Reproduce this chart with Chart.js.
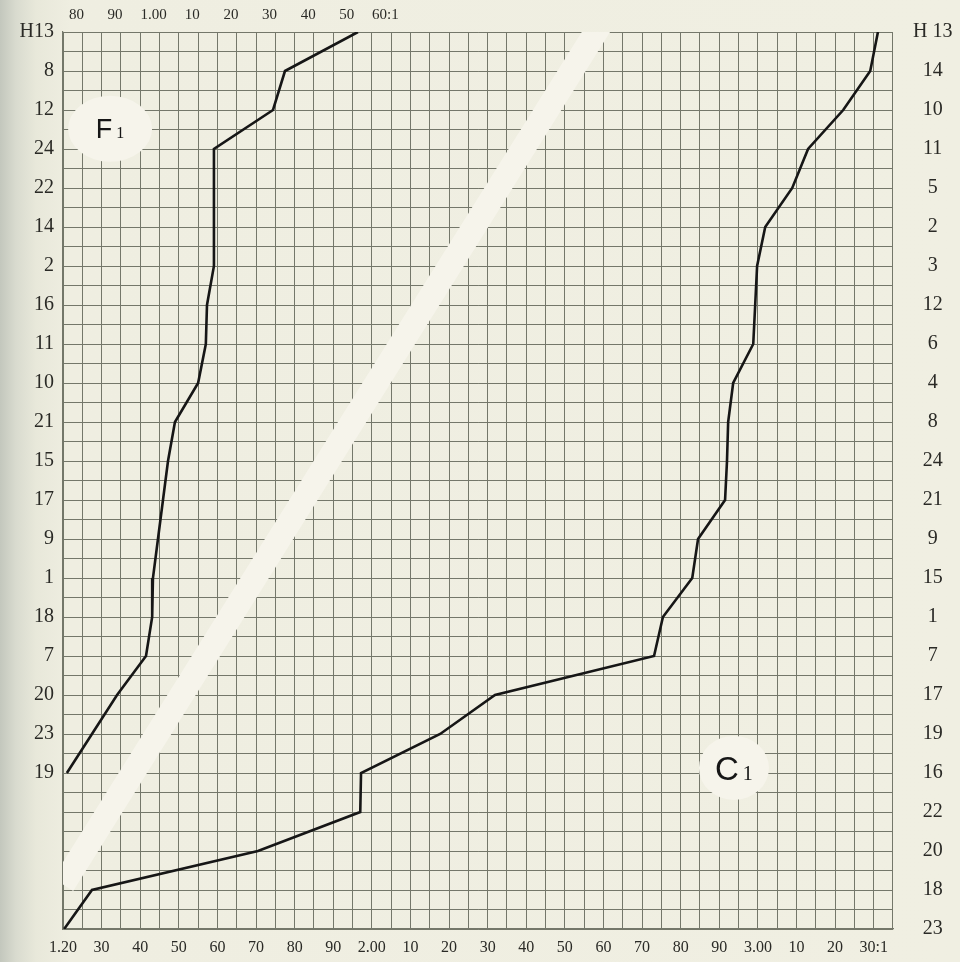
<!DOCTYPE html>
<html>
<head>
<meta charset="utf-8">
<script src="https://cdn.jsdelivr.net/npm/chart.js@4.4.1/dist/chart.umd.min.js"></script>
<style>
  html, body { margin: 0; padding: 0; background: #f0efe2; }
  #chart {
    display: block;
    background: linear-gradient(to right, #c3c7bd 0px, #d9dbcf 16px, #e8e8da 36px, #efeee1 70px, #f0efe2 100%);
  }
</style>
</head>
<body>
<canvas id="chart" width="960" height="962"></canvas>
<script>
// row labels (left belongs to F1, right to C1)
const leftLabels = ["H13", "8", "12", "24", "22", "14", "2", "16", "11", "10", "21", "15", "17", "9", "1", "18", "7", "20", "23", "19"];
const rightLabels = ["H 13", "14", "10", "11", "5", "2", "3", "12", "6", "4", "8", "24", "21", "9", "15", "1", "7", "17", "19", "16", "22", "20", "18", "23"];

// ratio scales: bottom for C1, top for F1
const bottomLabels = ["1.20", "30", "40", "50", "60", "70", "80", "90", "2.00", "10", "20", "30", "40", "50", "60", "70", "80", "90", "3.00", "10", "20", "30:1"];
const topLabels = ["80", "90", "1.00", "10", "20", "30", "40", "50", "60:1"];
const topTickValues = [0.80, 0.90, 1.00, 1.10, 1.20, 1.30, 1.40, 1.50, 1.60];

// F1 curve (top scale)
const f1Rows = [0, 1, 2, 3, 4, 5, 6, 7, 8, 9, 10, 11, 12, 13, 14, 15, 16, 17, 18, 19];
const f1Ratios = [1.529, 1.340, 1.309, 1.156, 1.156, 1.156, 1.156, 1.138, 1.135, 1.115, 1.055, 1.037, 1.024, 1.011, 0.998, 0.996, 0.980, 0.905, 0.840, 0.775];

// C1 curve (bottom scale)
const c1Rows = [0, 1, 2, 3, 4, 5, 6, 7, 8, 9, 10, 11, 12, 13, 14, 15, 16, 17, 18, 19, 20, 21, 22, 23];
const c1Ratios = [3.311, 3.291, 3.221, 3.130, 3.089, 3.019, 2.998, 2.993, 2.988, 2.936, 2.923, 2.920, 2.915, 2.845, 2.830, 2.754, 2.731, 2.319, 2.177, 1.972, 1.970, 1.705, 1.275, 1.203];

// blank strip across the grid paper
const bandRows = [-0.5, 21.86];
const bandRatios = [2.612, 1.200];

const blank = "#f6f4eb";
const ink = "#161616";
const gridInk = "#74776a";

const curveLabels = [
  { main: "F", sub: "1", x: 1.322, y: 2.48, rx: 42, ry: 33, size: 27 },
  { main: "C", sub: "1", x: 2.938, y: 18.87, rx: 35, ry: 32, size: 33 }
];

const toPoints = (xs, ys) => xs.map((v, i) => ({ x: v, y: ys[i] }));

const labelPlugin = {
  id: "curveLabels",
  beforeDatasetsDraw(chart) {
    const { ctx, scales } = chart;
    curveLabels.forEach(l => {
      const cx = scales.x.getPixelForValue(l.x);
      const cy = scales.y.getPixelForValue(l.y);
      ctx.save();
      ctx.fillStyle = blank;
      ctx.beginPath();
      ctx.ellipse(cx, cy, l.rx, l.ry, 0, 0, Math.PI * 2);
      ctx.fill();
      ctx.fillStyle = ink;
      const mainFont = l.size + "px 'Liberation Sans', Arial, sans-serif";
      const subFont = Math.round(l.size * 0.6) + "px 'Liberation Serif', serif";
      ctx.font = mainFont;
      const wMain = ctx.measureText(l.main).width;
      ctx.font = subFont;
      const wSub = ctx.measureText(l.sub).width;
      const gap = 4;
      const start = cx - (wMain + gap + wSub) / 2;
      const base = cy + l.size * 0.36;
      ctx.textBaseline = "alphabetic";
      ctx.textAlign = "left";
      ctx.font = mainFont;
      ctx.fillText(l.main, start, base);
      ctx.font = subFont;
      ctx.fillText(l.sub, start + wMain + gap, base);
      ctx.restore();
    });
  }
};

const ctx = document.getElementById("chart").getContext("2d");

const chart = new Chart(ctx, {
  type: "scatter",
  data: {
    datasets: [
      {
        label: "F1",
        data: toPoints(f1Ratios, f1Rows),
        xAxisID: "x2",
        yAxisID: "y",
        showLine: true,
        borderColor: ink,
        borderWidth: 2.6,
        pointRadius: 0,
        tension: 0,
        order: 0
      },
      {
        label: "C1",
        data: toPoints(c1Ratios, c1Rows),
        xAxisID: "x",
        yAxisID: "y",
        showLine: true,
        borderColor: ink,
        borderWidth: 2.6,
        pointRadius: 0,
        tension: 0,
        order: 0
      },
      {
        label: "band",
        data: toPoints(bandRatios, bandRows),
        xAxisID: "x",
        yAxisID: "y",
        showLine: true,
        borderColor: blank,
        borderWidth: 24,
        borderCapStyle: "butt",
        pointRadius: 0,
        clip: 0,
        order: 2
      }
    ]
  },
  options: {
    responsive: false,
    animation: false,
    events: [],
    layout: { padding: 0 },
    plugins: {
      legend: { display: false },
      tooltip: { enabled: false }
    },
    scales: {
      x: {
        type: "linear",
        position: "bottom",
        min: 1.20,
        max: 3.35,
        afterBuildTicks: scale => {
          scale.ticks = Array.from({ length: 44 }, (_, i) => ({ value: 1.20 + i * 0.05 }));
        },
        afterFit: scale => { scale.height = 33; },
        grid: { color: gridInk, lineWidth: 1, drawTicks: false },
        border: { display: true, color: gridInk, width: 1.2 },
        ticks: {
          autoSkip: false,
          maxRotation: 0,
          padding: 9,
          color: "#2a2a26",
          font: { family: "'Liberation Serif', serif", size: 16 },
          callback: (v, i) => (i % 2 === 0 ? (bottomLabels[i / 2] || "") : "")
        }
      },
      x2: {
        type: "linear",
        position: "top",
        min: 0.765,
        max: 0.765 + 43 * 0.05,
        afterBuildTicks: scale => {
          scale.ticks = topTickValues.map(v => ({ value: v }));
        },
        afterFit: scale => { scale.height = 32; },
        grid: { display: false, drawTicks: false },
        border: { display: false },
        ticks: {
          autoSkip: false,
          maxRotation: 0,
          padding: 8,
          color: "#2a2a26",
          font: { family: "'Liberation Serif', serif", size: 15 },
          callback: (v, i) => topLabels[i]
        }
      },
      y: {
        type: "linear",
        position: "left",
        reverse: true,
        min: 0,
        max: 23,
        afterBuildTicks: scale => {
          scale.ticks = Array.from({ length: 47 }, (_, i) => ({ value: i * 0.5 }));
        },
        afterFit: scale => { scale.width = 63; },
        grid: { color: gridInk, lineWidth: 1, drawTicks: false },
        border: { display: true, color: gridInk, width: 1.2 },
        ticks: {
          autoSkip: false,
          padding: 9,
          color: "#2a2a26",
          font: { family: "'Liberation Serif', serif", size: 20 },
          callback: (v, i) => (i % 2 === 0 ? (leftLabels[i / 2] || "") : "")
        }
      },
      y2: {
        type: "linear",
        position: "right",
        reverse: true,
        min: 0,
        max: 23,
        afterBuildTicks: scale => {
          scale.ticks = rightLabels.map((_, i) => ({ value: i }));
        },
        afterFit: scale => { scale.width = 67; },
        grid: { display: false, drawTicks: false },
        border: { display: false },
        ticks: {
          autoSkip: false,
          padding: 20,
          crossAlign: "center",
          color: "#2a2a26",
          font: { family: "'Liberation Serif', serif", size: 20 },
          callback: (v, i) => rightLabels[i]
        }
      }
    }
  },
  plugins: [labelPlugin]
});
</script>
</body>
</html>
